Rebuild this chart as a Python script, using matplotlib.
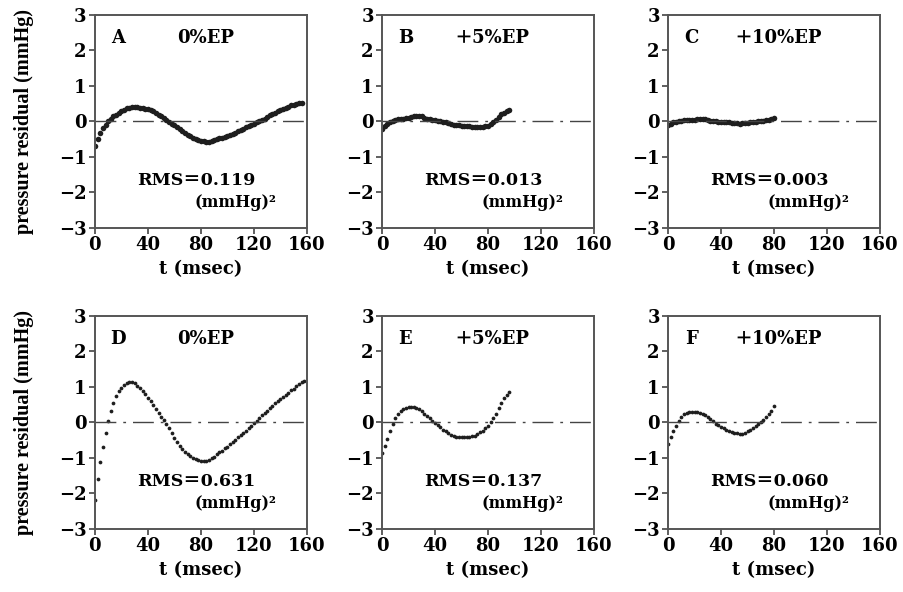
import numpy as np
import matplotlib.pyplot as plt

# 잔차 데이터 (2 msec 간격 샘플)
dt = 2.0
res_A = [-0.69, -0.50, -0.33, -0.19, -0.09, 0.01, 0.08, 0.14, 0.19, 0.24,
         0.28, 0.33, 0.37, 0.39, 0.41, 0.42, 0.40, 0.39, 0.37, 0.36,
         0.34, 0.32, 0.29, 0.24, 0.19, 0.14, 0.09, 0.05, -0.01, -0.07,
         -0.11, -0.16, -0.21, -0.27, -0.32, -0.37, -0.42, -0.46, -0.49, -0.52,
         -0.55, -0.56, -0.57, -0.57, -0.55, -0.52, -0.50, -0.48, -0.46, -0.44,
         -0.41, -0.39, -0.36, -0.32, -0.28, -0.24, -0.20, -0.17, -0.13, -0.09,
         -0.06, -0.02, 0.01, 0.05, 0.08, 0.12, 0.17, 0.21, 0.25, 0.28,
         0.32, 0.36, 0.39, 0.42, 0.45, 0.47, 0.49, 0.51, 0.53]
res_B = [-0.20, -0.13, -0.07, -0.03, 0.01, 0.04, 0.06, 0.07, 0.08, 0.10,
         0.11, 0.12, 0.14, 0.15, 0.16, 0.14, 0.10, 0.08, 0.06, 0.04,
         0.03, 0.02, 0.00, -0.01, -0.03, -0.05, -0.07, -0.09, -0.10, -0.11,
         -0.12, -0.13, -0.13, -0.14, -0.16, -0.16, -0.17, -0.17, -0.16, -0.14,
         -0.12, -0.08, -0.03, 0.05, 0.13, 0.20, 0.25, 0.29, 0.33]
res_C = [-0.10, -0.06, -0.03, -0.01, 0.01, 0.02, 0.03, 0.04, 0.04, 0.05,
         0.05, 0.06, 0.07, 0.07, 0.06, 0.04, 0.02, 0.01, 0.00, -0.01,
         -0.01, -0.01, -0.01, -0.02, -0.04, -0.05, -0.05, -0.06, -0.05, -0.05,
         -0.04, -0.03, -0.02, -0.01, 0.00, 0.01, 0.02, 0.03, 0.05, 0.08,
         0.11]
res_D = [-2.18, -1.60, -1.12, -0.68, -0.30, 0.05, 0.32, 0.55, 0.74, 0.88,
         0.98, 1.05, 1.10, 1.13, 1.14, 1.11, 1.04, 0.97, 0.89, 0.79,
         0.69, 0.59, 0.48, 0.37, 0.26, 0.16, 0.06, -0.05, -0.16, -0.29,
         -0.43, -0.55, -0.66, -0.75, -0.82, -0.89, -0.94, -0.99, -1.03, -1.06,
         -1.08, -1.08, -1.08, -1.06, -1.01, -0.96, -0.90, -0.84, -0.79, -0.73,
         -0.68, -0.61, -0.55, -0.48, -0.42, -0.36, -0.30, -0.24, -0.17, -0.10,
         -0.02, 0.05, 0.12, 0.20, 0.27, 0.33, 0.40, 0.47, 0.54, 0.60,
         0.66, 0.72, 0.78, 0.84, 0.90, 0.95, 1.02, 1.08, 1.14, 1.18]
res_E = [-0.85, -0.66, -0.46, -0.25, -0.05, 0.12, 0.23, 0.31, 0.37, 0.41,
         0.43, 0.44, 0.44, 0.42, 0.38, 0.32, 0.25, 0.19, 0.12, 0.05,
         -0.01, -0.08, -0.14, -0.20, -0.25, -0.30, -0.35, -0.38, -0.41, -0.42,
         -0.42, -0.41, -0.40, -0.40, -0.39, -0.37, -0.33, -0.28, -0.23, -0.17,
         -0.10, 0.00, 0.12, 0.25, 0.40, 0.55, 0.68, 0.78, 0.86]
res_F = [-0.61, -0.42, -0.25, -0.10, 0.05, 0.16, 0.23, 0.27, 0.29, 0.30,
         0.30, 0.29, 0.27, 0.24, 0.21, 0.15, 0.09, 0.03, -0.03, -0.08,
         -0.12, -0.16, -0.20, -0.23, -0.26, -0.29, -0.31, -0.33, -0.32, -0.29,
         -0.25, -0.21, -0.16, -0.11, -0.05, 0.01, 0.08, 0.16, 0.23, 0.31,
         0.45]

letters = ['A', 'B', 'C', 'D', 'E', 'F']
conds = ['0%EP', '\uff0b5%EP', '\uff0b10%EP', '0%EP', '\uff0b5%EP', '\uff0b10%EP']
rms = ['0.119', '0.013', '0.003', '0.631', '0.137', '0.060']
series = [res_A, res_B, res_C, res_D, res_E, res_F]

plt.rcParams['font.family'] = ['DejaVu Serif', 'Noto Sans CJK JP']
plt.rcParams['font.weight'] = 'bold'
plt.rcParams['axes.labelweight'] = 'bold'

fig = plt.figure(figsize=(9.04, 5.92), dpi=100)
lefts = [0.105, 0.4226, 0.739]
bottoms = [0.6149, 0.1064]
w, h = 0.2345, 0.360

for i in range(6):
    row, col = i // 3, i % 3
    ax = fig.add_axes([lefts[col], bottoms[row], w, h])
    y = np.array(series[i])
    t = np.arange(len(y)) * dt
    ms = 4.0 if row == 0 else 2.7
    ax.plot(t, y, 'o', ms=ms, color='#1e1e1e', mec='none')
    zl, = ax.plot([0, 160], [0, 0], color='#444444', lw=1.0)
    zl.set_dashes([15, 5, 2, 5])
    ax.set_xlim(0, 160)
    ax.set_ylim(-3, 3)
    ax.set_xticks([0, 40, 80, 120, 160])
    ax.set_yticks([-3, -2, -1, 0, 1, 2, 3])
    ax.set_yticklabels(['\u22123', '\u22122', '\u22121', '0', '1', '2', '3'])
    ax.tick_params(direction='out', length=4, width=1.2, labelsize=13, color='#444444', pad=2)
    for s in ax.spines.values():
        s.set_linewidth(1.4)
        s.set_color('#555555')
    ax.text(0.11, 0.89, letters[i], transform=ax.transAxes, fontsize=13,
            ha='center', va='center')
    ax.text(0.52, 0.89, conds[i], transform=ax.transAxes, fontsize=13,
            ha='center', va='center')
    ax.text(0.20, 0.225, 'RMS\uff1d' + rms[i], transform=ax.transAxes, fontsize=12.5,
            ha='left', va='center')
    ax.text(0.47, 0.12, '(mmHg)\u00b2', transform=ax.transAxes, fontsize=11.5,
            ha='left', va='center')
    ax.set_xlabel('t (msec)', fontsize=13, labelpad=4)
    if col == 0:
        ax.set_ylabel('pressure residual (mmHg)', fontsize=14.5, labelpad=18,
                      family=['Liberation Serif', 'DejaVu Serif'])

fig.savefig('out.png', dpi=100)
